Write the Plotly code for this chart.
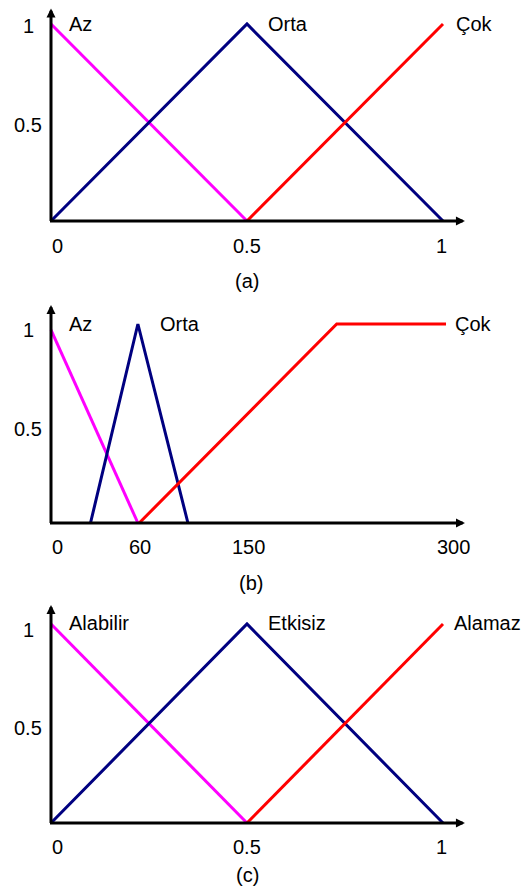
import plotly.graph_objects as go

# (a) giriş değişkeni, 0-1 aralığı
a_az_x = [0, 0.5]
a_az_y = [1, 0]
a_orta_x = [0, 0.5, 1]
a_orta_y = [0, 1, 0]
a_cok_x = [0.5, 1]
a_cok_y = [0, 1]
a_ticks = [0, 0.5, 1]
a_ticktext = ['0', '0.5', '1']
a_names = ['Az', 'Orta', 'Çok']

# (b) giriş değişkeni, 0-300 aralığı (şekil ölçekli değil)
b_az_x = [0, 66]
b_az_y = [0.97, 0]
b_orta_x = [30, 66, 104]
b_orta_y = [0, 1, 0]
b_cok_x = [67, 217, 300]
b_cok_y = [0, 1, 1]
b_ticks = [0, 66, 150, 300]
b_ticktext = ['0', '60', '150', '300']
b_names = ['Az', 'Orta', 'Çok']

# (c) çıkış değişkeni
c_alabilir_x = [0, 0.5]
c_alabilir_y = [1, 0]
c_etkisiz_x = [0, 0.5, 1]
c_etkisiz_y = [0, 1, 0]
c_alamaz_x = [0.5, 1]
c_alamaz_y = [0, 1]
c_ticks = [0, 0.5, 1]
c_ticktext = ['0', '0.5', '1']
c_names = ['Alabilir', 'Etkisiz', 'Alamaz']

y_ticks = [1, 0.5]
y_ticktext = ['1', '0.5']

PINK = '#ff00ff'
NAVY = '#000080'
RED = '#ff0000'
FONT = dict(family='Liberation Sans, Arial, sans-serif', size=20, color='black')

fig = go.Figure()

panels = [
    dict(ax='', curves=[(a_az_x, a_az_y, PINK), (a_orta_x, a_orta_y, NAVY), (a_cok_x, a_cok_y, RED)],
         xr=[-0.1097, 1.2194], yr=[-0.0711, 1.0812], ydom=[0.74408, 1.0],
         ticks=a_ticks, ticktext=a_ticktext, tshift=[6, 0, -2], tyshift=-25,
         names=a_names, name_x=[0.040, 0.548, 1.028], name_y=1.0,
         ylab_shift=[-2, -2.5], title='(a)', title_x=0.5, title_shift=-60,
         xend=1.056, yend=1.079, px=392, py=197),
    dict(ax='2', curves=[(b_az_x, b_az_y, PINK), (b_orta_x, b_orta_y, NAVY), (b_cok_x, b_cok_y, RED)],
         xr=[-32.66, 363.03], yr=[-0.0603, 1.1206], ydom=[0.40586, 0.67080],
         ticks=b_ticks, ticktext=b_ticktext, tshift=[6, 2, 0, 7], tyshift=-24,
         names=b_names, name_x=[12, 81, 305], name_y=1.0,
         ylab_shift=[-6, -5.5], title='(b)', title_x=152, title_shift=-60,
         xend=314.4, yend=1.0955, px=1.3167, py=199),
    dict(ax='3', curves=[(c_alabilir_x, c_alabilir_y, PINK), (c_etkisiz_x, c_etkisiz_y, NAVY), (c_alamaz_x, c_alamaz_y, RED)],
         xr=[-0.1097, 1.2194], yr=[-0.0603, 1.1709], ydom=[0.06764, 0.34386],
         ticks=c_ticks, ticktext=c_ticktext, tshift=[6, 0, -2], tyshift=-24,
         names=c_names, name_x=[0.040, 0.548, 1.024], name_y=1.005,
         ylab_shift=[-6, -4.5], title='(c)', title_x=0.5, title_shift=-52,
         xend=1.056, yend=1.0955, px=392, py=199),
]

annotations = []
layout_axes = {}
for p in panels:
    xa, ya = 'x' + p['ax'], 'y' + p['ax']
    for cx, cy, col in p['curves']:
        fig.add_trace(go.Scatter(x=cx, y=cy, mode='lines', xaxis=xa, yaxis=ya,
                                 line=dict(color=col, width=3), hoverinfo='skip'))
    layout_axes['xaxis' + p['ax']] = dict(domain=[0, 1], range=p['xr'], visible=False, anchor=ya)
    layout_axes['yaxis' + p['ax']] = dict(domain=p['ydom'], range=p['yr'], visible=False, anchor=xa)

    # eksen okları
    annotations.append(dict(xref=xa, yref=ya, axref=xa, ayref=ya, x=0, y=p['yend'],
                            ax=0, ay=-1.5 / p['py'], text='', showarrow=True,
                            arrowhead=2, arrowsize=0.6, arrowwidth=3, arrowcolor='black', standoff=0))
    annotations.append(dict(xref=xa, yref=ya, axref=xa, ayref=ya, x=p['xend'], y=0,
                            ax=-2.5 / p['px'], ay=0, text='', showarrow=True,
                            arrowhead=2, arrowsize=0.6, arrowwidth=3, arrowcolor='black', standoff=0))

    # x etiketleri
    for v, t, s in zip(p['ticks'], p['ticktext'], p['tshift']):
        annotations.append(dict(xref=xa, yref=ya, x=v, y=0, text=t, showarrow=False,
                                xshift=s, yshift=p['tyshift'], font=FONT))
    # y etiketleri
    for v, t, s in zip(y_ticks, y_ticktext, p['ylab_shift']):
        annotations.append(dict(xref=xa, yref=ya, x=0, y=v, text=t, showarrow=False,
                                xshift=-23, yshift=s, font=FONT))
    # eğri adları
    for n, nx in zip(p['names'], p['name_x']):
        annotations.append(dict(xref=xa, yref=ya, x=nx, y=p['name_y'], text=n, showarrow=False,
                                xanchor='left', font=FONT))
    annotations.append(dict(xref=xa, yref=ya, x=p['title_x'], y=0, text=p['title'], showarrow=False,
                            yshift=p['title_shift'], font=FONT))

# sayfa gövdesi 8 px kenar boşluğu bıraktığı için şekil 8 px küçük
fig.update_layout(
    width=521, height=887,
    margin=dict(l=0, r=0, t=0, b=0),
    paper_bgcolor='white', plot_bgcolor='white',
    showlegend=False,
    annotations=annotations,
    **layout_axes
)
fig.write_html('out.html')
